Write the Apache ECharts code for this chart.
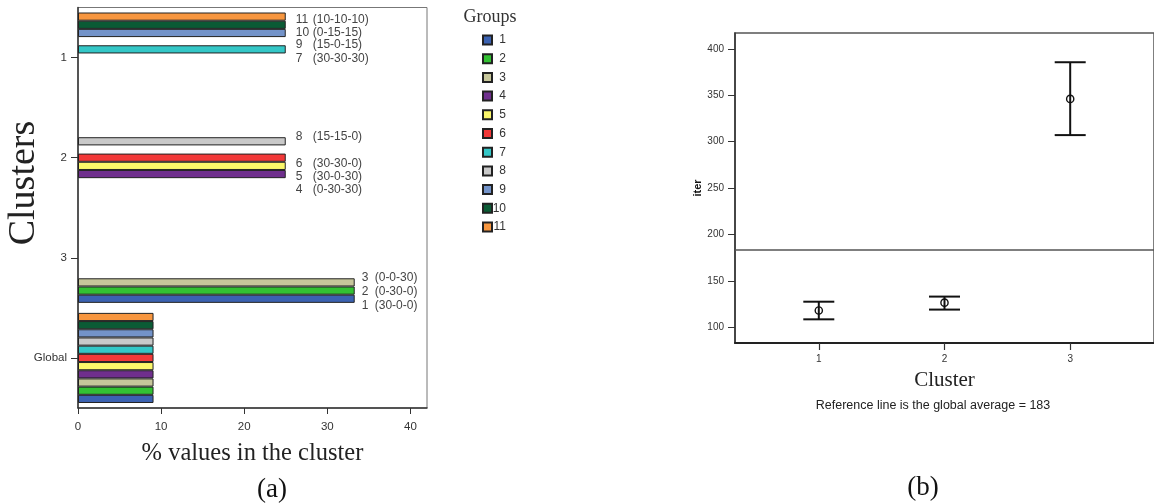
<!DOCTYPE html>
<html><head><meta charset="utf-8">
<script src="https://cdn.jsdelivr.net/npm/echarts@6/dist/echarts.min.js"></script>
<style>html,body{margin:0;padding:0;background:#fff}#c{width:1154px;height:503px}</style>
</head><body><div id="c"></div>
<script>
// ---------- data: chart (a) ----------
const clusters = ['1', '2', '3', 'Global'];
const groups = ['1', '2', '3', '4', '5', '6', '7', '8', '9', '10', '11'];
const groupCodes = ['30-0-0', '0-30-0', '0-0-30', '0-30-30', '30-0-30', '30-30-0', '30-30-30', '15-15-0', '15-0-15', '0-15-15', '10-10-10'];
// % of each group's values in cluster 1, 2, 3 and Global
const group1 = [0, 0, 33.3, 9.09];
const group2 = [0, 0, 33.3, 9.09];
const group3 = [0, 0, 33.3, 9.09];
const group4 = [0, 25, 0, 9.09];
const group5 = [0, 25, 0, 9.09];
const group6 = [0, 25, 0, 9.09];
const group7 = [25, 0, 0, 9.09];
const group8 = [0, 25, 0, 9.09];
const group9 = [25, 0, 0, 9.09];
const group10 = [25, 0, 0, 9.09];
const group11 = [25, 0, 0, 9.09];
const pctTicks = [0, 10, 20, 30, 40];
// ---------- data: chart (b) ----------
const errClusters = [1, 2, 3];
const errLow = [108.5, 119, 307];
const errMean = [118, 126.5, 346];
const errHigh = [127.5, 133, 385.5];
const globalAverage = 183;
const iterTicks = [100, 150, 200, 250, 300, 350, 400];

// ---------- styles ----------
const groupValues = [group1, group2, group3, group4, group5, group6, group7, group8, group9, group10, group11];
const colors = ['#3b62b1', '#33c233', '#c7c79b', '#6f2f8d', '#fbf76a', '#f23838', '#34c7c7', '#c9c9c9', '#7393c9', '#0b5b35', '#f7963f'];
const SANS = '"Liberation Sans", Arial, sans-serif';
const SERIF = '"Liberation Serif", "Times New Roman", serif';
// vertical shift of each text label (cluster index - group index)
const labelShift = {
  '0-10': 3, '0-9': 7.5, '0-8': 12, '0-6': 9,
  '1-7': -5, '1-5': 6, '1-4': 10.5, '1-3': 16,
  '2-2': -5, '2-1': 1, '2-0': 6.5
};
const labelDist = [10, 10, 7, 0];
const labelNumW = [17, 17, 13, 0];

const series = [];
for (let g = groups.length - 1; g >= 0; g--) {
  const data = groupValues[g].map((v, c) => {
    if (!v) return '-';
    const key = c + '-' + g;
    const item = { value: v };
    if (key in labelShift) {
      item.label = {
        show: true, position: 'right', distance: labelDist[c], offset: [0, labelShift[key]],
        formatter: '{n' + c + '|' + groups[g] + '}{p|(' + groupCodes[g] + ')}'
      };
    }
    return item;
  });
  series.push({
    name: groups[g], type: 'bar', xAxisIndex: 0, yAxisIndex: 0,
    barGap: 0, barCategoryGap: '10%', data,
    itemStyle: { color: colors[g], borderColor: '#222', borderWidth: 1 },
    label: {
      show: false, color: '#444', fontFamily: SANS, fontSize: 12,
      rich: {
        n0: { width: labelNumW[0], fontSize: 12, color: '#444', fontFamily: SANS },
        n1: { width: labelNumW[1], fontSize: 12, color: '#444', fontFamily: SANS },
        n2: { width: labelNumW[2], fontSize: 12, color: '#444', fontFamily: SANS },
        p: { fontSize: 12, color: '#444', fontFamily: SANS }
      }
    },
    emphasis: { disabled: true }
  });
}

series.push({
  type: 'custom', xAxisIndex: 1, yAxisIndex: 1,
  data: errClusters.map((c, i) => [c, errLow[i], errMean[i], errHigh[i]]),
  renderItem: function (params, api) {
    const x = api.value(0);
    const lo = api.coord([x, api.value(1)]);
    const mid = api.coord([x, api.value(2)]);
    const hi = api.coord([x, api.value(3)]);
    const hw = 15.5;
    const st = { stroke: '#111', lineWidth: 2 };
    return {
      type: 'group', children: [
        { type: 'line', shape: { x1: hi[0], y1: hi[1], x2: lo[0], y2: lo[1] }, style: st },
        { type: 'line', shape: { x1: hi[0] - hw, y1: hi[1], x2: hi[0] + hw, y2: hi[1] }, style: st },
        { type: 'line', shape: { x1: lo[0] - hw, y1: lo[1], x2: lo[0] + hw, y2: lo[1] }, style: st },
        { type: 'circle', shape: { cx: mid[0], cy: mid[1], r: 3.6 }, style: { fill: 'none', stroke: '#111', lineWidth: 1.4 } }
      ]
    };
  },
  markLine: {
    silent: true, symbol: 'none', animation: false,
    label: { show: false },
    lineStyle: { color: '#555', width: 1.5, type: 'solid' },
    data: [{ yAxis: globalAverage }]
  }
});

const option = {
  animation: false,
  backgroundColor: '#fff',
  grid: [
    { left: 78, top: 7.5, right: 1154 - 427, bottom: 503 - 408, show: true, borderColor: '#777', borderWidth: 1 },
    { left: 735, top: 33, right: -8, bottom: 503 - 343, show: true, borderColor: '#555', borderWidth: 1.5 }
  ],
  legend: {
    data: groups, orient: 'vertical', left: 482, top: 34, padding: 0, itemWidth: 9, itemHeight: 9, itemGap: 6.7,
    icon: 'rect', selectedMode: false,
    formatter: n => '{a|' + n + '}',
    textStyle: {
      color: '#333', fontFamily: SANS, fontSize: 12,
      rich: { a: { width: 9, align: 'right', fontSize: 12, color: '#333', fontFamily: SANS } }
    }
  },
  xAxis: [
    {
      gridIndex: 0, type: 'value', min: 0, max: 42,
      name: '% values in the cluster', nameLocation: 'middle', nameGap: 33,
      nameTextStyle: { fontFamily: SERIF, fontSize: 24.5, color: '#222' },
      axisLine: { show: true, lineStyle: { color: '#333', width: 1.5 } },
      axisTick: { show: true, length: 6, customValues: pctTicks, lineStyle: { color: '#333' } },
      axisLabel: { customValues: pctTicks, margin: 13, color: '#333', fontFamily: SANS, fontSize: 11.5 },
      splitLine: { show: false }
    },
    {
      gridIndex: 1, type: 'value', min: 1 / 3, max: 11 / 3,
      name: 'Cluster', nameLocation: 'middle', nameGap: 27,
      nameTextStyle: { fontFamily: SERIF, fontSize: 21, color: '#222' },
      axisLine: { show: true, lineStyle: { color: '#222', width: 2 } },
      axisTick: { show: true, length: 7, customValues: errClusters, lineStyle: { color: '#333', width: 1.2 } },
      axisLabel: { customValues: errClusters, margin: 11, color: '#333', fontFamily: SANS, fontSize: 10 },
      splitLine: { show: false }
    }
  ],
  yAxis: [
    {
      gridIndex: 0, type: 'category', data: clusters, inverse: true,
      axisLine: { show: true, lineStyle: { color: '#333', width: 1.5 } },
      axisTick: { show: true, alignWithLabel: true, length: 7, lineStyle: { color: '#333' } },
      axisLabel: { margin: 11, color: '#333', fontFamily: SANS, fontSize: 11.5 }
    },
    {
      gridIndex: 1, type: 'value', min: 83, max: 417,
      name: 'iter', nameLocation: 'middle', nameGap: 32, nameRotate: 90,
      nameTextStyle: { fontFamily: SANS, fontSize: 11, fontWeight: 'bold', color: '#111' },
      axisLine: { show: true, lineStyle: { color: '#333', width: 1.5 } },
      axisTick: { show: true, length: 7, customValues: iterTicks, lineStyle: { color: '#333' } },
      axisLabel: { customValues: iterTicks, margin: 11, color: '#333', fontFamily: SANS, fontSize: 10 },
      splitLine: { show: false }
    }
  ],
  graphic: [
    { type: 'text', x: 24, y: 183, rotation: Math.PI / 2, style: { text: 'Clusters', fontFamily: SERIF, fontSize: 38, fill: '#222', align: 'center', verticalAlign: 'middle' } },
    { type: 'text', x: 490, y: 17, style: { text: 'Groups', fontFamily: SERIF, fontSize: 18, fill: '#333', align: 'center', verticalAlign: 'middle' } },
    { type: 'text', x: 272, y: 490, style: { text: '(a)', fontFamily: SERIF, fontSize: 27, fill: '#111', align: 'center', verticalAlign: 'middle' } },
    { type: 'text', x: 923, y: 488, style: { text: '(b)', fontFamily: SERIF, fontSize: 27, fill: '#111', align: 'center', verticalAlign: 'middle' } },
    { type: 'text', x: 933, y: 406, style: { text: 'Reference line is the global average = 183', fontFamily: SANS, fontSize: 12.5, fill: '#222', align: 'center', verticalAlign: 'middle' } }
  ],
  series
};
const chart = echarts.init(document.getElementById('c'), null, { renderer: 'canvas' });
chart.setOption(option);
</script></body></html>
